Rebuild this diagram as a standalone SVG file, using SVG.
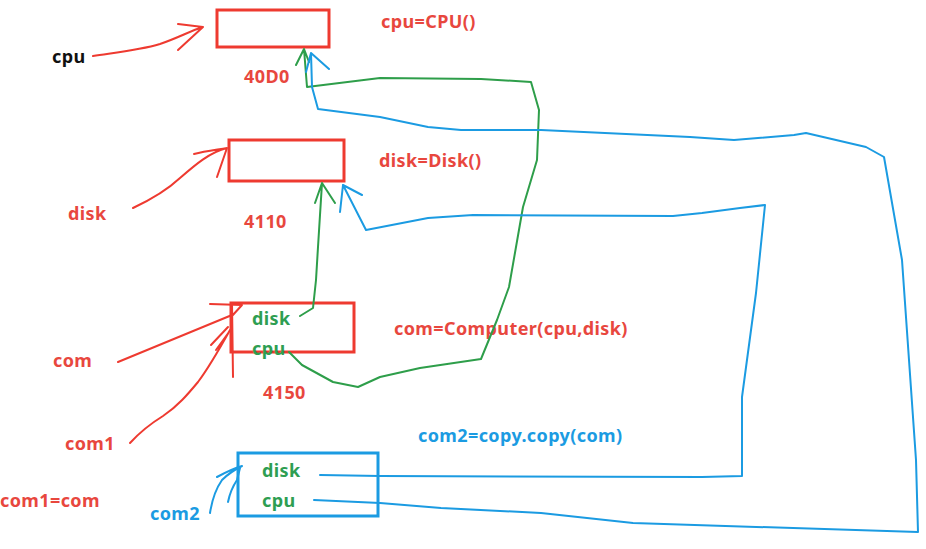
<svg xmlns="http://www.w3.org/2000/svg" width="926" height="549" viewBox="0 0 926 549">
<style>
.t{font-family:"Noto Sans","Noto Sans CJK SC",sans-serif;font-weight:bold;font-size:18px;letter-spacing:0.4px}
.r{fill:#e8473e}.g{fill:#2e9e52}.b{fill:#1b9be2}.k{fill:#111}
.ln{fill:none;stroke-linecap:round;stroke-linejoin:round;stroke-width:2}
.lr{stroke:#ee3a30}.lg{stroke:#2e9e4a}.lb{stroke:#1b9be2}
.box{fill:none;stroke-width:3}
</style>
<rect width="926" height="549" fill="#fff"/>
<g id="node-cpu">
<rect class="box" x="217" y="10" width="112" height="37" stroke="#ee3a30"/>
<text class="t r" x="381" y="28">cpu=CPU()</text>
<text class="t r" x="244" y="83">40D0</text>
</g>
<g id="node-disk">
<rect class="box" x="229" y="140" width="115" height="41" stroke="#ee3a30"/>
<text class="t r" x="379" y="167">disk=Disk()</text>
<text class="t r" x="244" y="228">4110</text>
</g>
<g id="node-com">
<rect class="box" x="231" y="303" width="123" height="49" stroke="#ee3a30"/>
<text class="t g" x="252" y="325">disk</text>
<text class="t g" x="252" y="355">cpu</text>
<text class="t r" x="394" y="335">com=Computer(cpu,disk)</text>
<text class="t r" x="263" y="399">4150</text>
</g>
<g id="node-com2">
<rect class="box" x="238" y="453" width="140" height="63" stroke="#1b9be2"/>
<text class="t g" x="262" y="477">disk</text>
<text class="t g" x="262" y="507">cpu</text>
<text class="t b" x="418" y="442">com2=copy.copy(com)</text>
</g>
<g id="labels">
<text class="t k" x="52" y="63">cpu</text>
<text class="t r" x="68" y="220">disk</text>
<text class="t r" x="53" y="367">com</text>
<text class="t r" x="65" y="450">com1</text>
<text class="t r" x="0" y="507">com1=com</text>
<text class="t b" x="150" y="520">com2</text>
</g>
<g id="connectors">
<path class="ln lr" d="M93,56 C120,52 140,50 160,44 C178,38 190,31 203,27 M178,24 L203,27 L178,50"/>
<path class="ln lr" d="M133,208 C150,200 165,192 180,178 C195,165 210,152 227,148 M194,154 C205,151 215,150 227,148 L217,177"/>
<path class="ln lr" d="M118,362 L232,315" stroke-width="3.5"/>
<path class="ln lr" d="M210,304 L242,305 L232,316 M232,303 L233,377"/>
<path class="ln lr" d="M130,443 C140,432 150,424 163,416 C178,406 188,394 198,382 C210,366 220,348 230,330 M211,345 L228,327 M216,350 L229,332"/>
<path class="ln lb" d="M210,513 C212,500 215,490 222,480 C230,472 236,469 242,466 M217,477 C228,471 235,468 242,466 M228,502 C230,492 233,486 237,480 L240,468"/>
<path class="ln lg" d="M300,316 L313,308 L316,280 L318,247 L322,183 M315,203 L322,183 L335,203"/>
<path class="ln lg" d="M289,352 L302,365 L333,382 L358,387 L380,377 L420,368 L481,359 L497,320 L509,287 L523,207 L537,160 L539,110 L531,82 L481,79 L380,78 L307,87 L304,49 M296,65 L304,49 L309,62"/>
<path class="ln lb" d="M320,475 L380,476 L702,477 L742,476 L742,397 L756,293 L765,205 L740,208 L702,213 L673,216 L473,215 L428,218 L366,230 L343,185 M340,212 L343,185 L362,195"/>
<path class="ln lb" d="M314,500 L380,503 L441,508 L541,513 L633,523 L918,532 L916,460 L902,260 L884,157 L866,147 L806,133 L794,135 L734,140 L690,137 L541,130 L461,130 L428,127 L380,117 L318,109 L312,87 L311,53 M306,72 L311,53 L329,69"/>
</g>
</svg>
